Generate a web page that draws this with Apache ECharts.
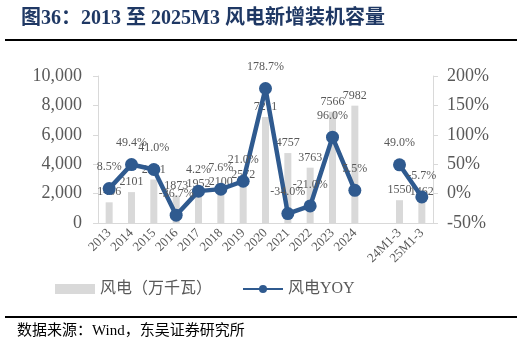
<!DOCTYPE html>
<html><head><meta charset="utf-8">
<script src="https://cdn.jsdelivr.net/npm/echarts@6/dist/echarts.min.js"></script>
<style>html,body{margin:0;padding:0;background:#fff}#c{width:525px;height:350px}</style>
</head><body><div id="c"></div>
<script>
var categories = ['2013','2014','2015','2016','2017','2018','2019','2020','2021','2022','2023','2024','','24M1-3','25M1-3'];
var capacity = [1406,2101,2961,1873,1952,2100,2572,7211,4757,3763,7566,7982,null,1550,1462];
var yoy = [8.5,49.4,41.0,-36.7,4.2,7.6,21.0,178.7,-34.0,-21.0,96.0,5.5,null,49.0,-5.7];
var leftTicks = {min:0,max:10000,interval:2000};
var rightTicks = {min:-50,max:200,interval:50};

var serif = '"Liberation Serif","Times New Roman","Noto Sans CJK SC",serif';
var chart = echarts.init(document.getElementById('c'));
chart.setOption({
  animation:false,
  title:{text:'图36：2013 至 2025M3 风电新增装机容量',left:16,top:4,
    textStyle:{fontFamily:serif,fontSize:20,fontWeight:'bold',color:'#1f3864'}},
  graphic:[
    {type:'rect',shape:{x:5,y:39,width:512,height:2},style:{fill:'#000'}},
    {type:'rect',shape:{x:5,y:316,width:512,height:2},style:{fill:'#000'}},
    {type:'text',left:17,top:324,style:{text:'数据来源：Wind，东吴证券研究所',font:'15px '+serif,fill:'#000'}}
  ],
  grid:{left:98,right:92,top:76,bottom:127},
  legend:{left:50,top:276,itemGap:30,itemWidth:40,itemHeight:10,
    textStyle:{fontFamily:serif,fontSize:16,color:'#595959'},
    data:[{name:'风电（万千瓦）',icon:'rect'},{name:'风电YOY'}]},
  xAxis:{type:'category',data:categories,
    axisLine:{lineStyle:{color:'#d9d9d9'}},
    axisTick:{lineStyle:{color:'#d9d9d9'},length:5},
    axisLabel:{rotate:45,interval:0,fontFamily:serif,fontSize:13,color:'#595959',margin:8}},
  yAxis:[
    {type:'value',min:leftTicks.min,max:leftTicks.max,interval:leftTicks.interval,splitLine:{show:false},
      axisLine:{show:true,lineStyle:{color:'#d9d9d9'}},axisTick:{show:true,length:5,lineStyle:{color:'#d9d9d9'}},
      axisLabel:{fontFamily:serif,fontSize:18,color:'#595959',margin:16,
        formatter:function(v){return v.toLocaleString('en-US');}}},
    {type:'value',min:rightTicks.min,max:rightTicks.max,interval:rightTicks.interval,splitLine:{show:false},
      axisLine:{show:true,lineStyle:{color:'#d9d9d9'}},axisTick:{show:true,length:5,lineStyle:{color:'#d9d9d9'}},
      axisLabel:{fontFamily:serif,fontSize:18,color:'#595959',margin:14,formatter:'{value}%'}}
  ],
  series:[
    {name:'风电（万千瓦）',type:'bar',data:capacity,barWidth:7,itemStyle:{color:'#d9d9d9'},
      label:{show:true,position:'top',distance:4,fontFamily:serif,fontSize:12,color:'#595959'}},
    {name:'风电YOY',type:'line',yAxisIndex:1,data:yoy,connectNulls:false,
      symbol:'circle',symbolSize:13,lineStyle:{width:4.5,color:'#2f5a8f'},itemStyle:{color:'#2f5a8f'},
      label:{show:true,position:'top',distance:9,fontFamily:serif,fontSize:12,color:'#595959',
        formatter:function(p){return p.value.toFixed(1)+'%';}}}
  ]
});
</script></body></html>
